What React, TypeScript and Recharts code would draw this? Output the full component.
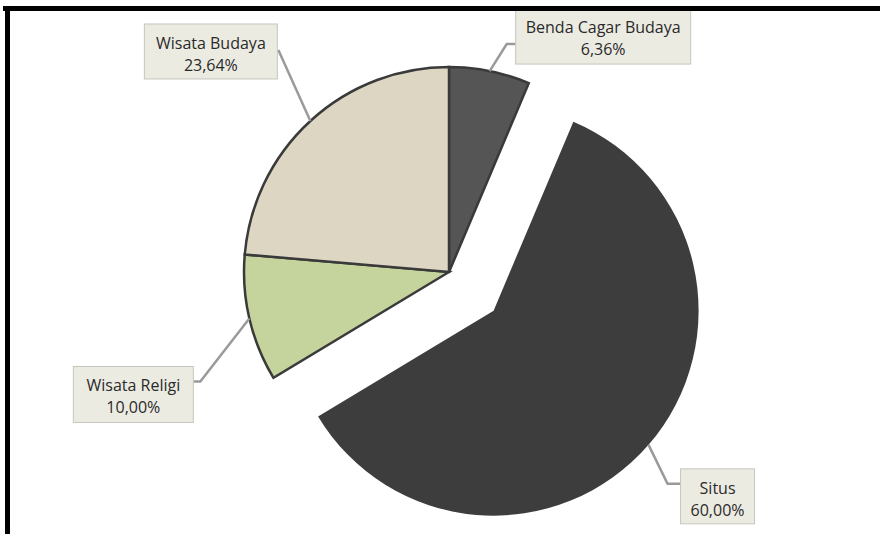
import { Cell, Pie, PieChart } from "recharts";

// Komposisi objek wisata budaya (persen)
const names = ["Benda Cagar Budaya", "Situs", "Wisata Religi", "Wisata Budaya"];
const shares = [6.36, 60.0, 10.0, 23.64];
const fills = ["#555555", "#3d3d3d", "#c5d39c", "#dcd6c3"];
const EXPLODED = "Situs";

const W = 880;
const H = 534;
const CX = 449;
const CY = 272;
const R = 205;
const EXPLODE_BY = 59;
const RAD = Math.PI / 180;
const FONT = "'Open Sans', 'DejaVu Sans', sans-serif";

const data = names.map((name, i) => ({ name, value: shares[i], fill: fills[i] }));

// Shift of the exploded slice, along its mid angle (clockwise from 12 o'clock).
const total = shares.reduce((a, b) => a + b, 0);
const explodedIdx = names.indexOf(EXPLODED);
const before = shares.slice(0, explodedIdx).reduce((a, b) => a + b, 0);
const midDeg = ((before + shares[explodedIdx] / 2) / total) * 360;
const shiftX = EXPLODE_BY * Math.sin(midDeg * RAD);
const shiftY = -EXPLODE_BY * Math.cos(midDeg * RAD);

// Label boxes relative to the point where the leader line touches the arc.
type LabelLayout = { bx: number; by: number; w: number; h: number; line: number[][] };
const LABELS: Record<string, LabelLayout> = {
  "Benda Cagar Budaya": { bx: 26, by: -63, w: 175, h: 56, line: [[17, -27], [26, -27]] },
  Situs: { bx: 32, by: 24, w: 74, h: 55, line: [[19, 39], [32, 39]] },
  "Wisata Religi": { bx: -176, by: 48, w: 120, h: 56, line: [[-49, 63], [-56, 63]] },
  "Wisata Budaya": { bx: -166, by: -97, w: 133, h: 55, line: [[-32, -71]] },
};

const pct = (v: number) => v.toFixed(2).replace(".", ",") + "%";

function makeLabel(showExploded: boolean) {
  return (props: any) => {
    const { cx, cy, midAngle, outerRadius, name, value } = props;
    const isExploded = name === EXPLODED;
    if (isExploded !== showExploded) return <g />;
    const ax = cx + outerRadius * Math.cos(-midAngle * RAD);
    const ay = cy + outerRadius * Math.sin(-midAngle * RAD);
    const l = LABELS[name];
    const pts = [[0, 0], ...l.line].map(([x, y]) => `${ax + x},${ay + y}`).join(" ");
    const tx = ax + l.bx + l.w / 2;
    return (
      <g>
        <polyline points={pts} fill="none" stroke="#9a9a9a" strokeWidth={2.5} />
        <rect
          x={ax + l.bx}
          y={ay + l.by}
          width={l.w}
          height={l.h}
          fill="#ecebe2"
          stroke="#c6c6be"
          strokeWidth={1}
        />
        <text
          x={tx}
          y={ay + l.by + 19}
          textAnchor="middle"
          dominantBaseline="central"
          fontFamily={FONT}
          fontSize={16}
          fill="#2a2a2a"
        >
          {name}
        </text>
        <text
          x={tx}
          y={ay + l.by + 41}
          textAnchor="middle"
          dominantBaseline="central"
          fontFamily={FONT}
          fontSize={16}
          fill="#2a2a2a"
        >
          {pct(value)}
        </text>
      </g>
    );
  };
}

export default function App() {
  return (
    <div style={{ position: "fixed", left: 0, top: 0, width: W, height: H, background: "#fff" }}>
      <PieChart width={W} height={H} margin={{ top: 0, right: 0, bottom: 0, left: 0 }}>
        <Pie
          data={data}
          dataKey="value"
          nameKey="name"
          cx={CX}
          cy={CY}
          outerRadius={R}
          startAngle={90}
          endAngle={-270}
          labelLine={false}
          label={makeLabel(false)}
          isAnimationActive={false}
        >
          {data.map((d) => (
            <Cell
              key={d.name}
              fill={d.name === EXPLODED ? "transparent" : d.fill}
              stroke={d.name === EXPLODED ? "none" : "#3a3a3a"}
              strokeWidth={2.5}
            />
          ))}
        </Pie>
        <Pie
          data={data}
          dataKey="value"
          nameKey="name"
          cx={CX + shiftX}
          cy={CY + shiftY}
          outerRadius={R}
          startAngle={90}
          endAngle={-270}
          labelLine={false}
          label={makeLabel(true)}
          isAnimationActive={false}
        >
          {data.map((d) => (
            <Cell
              key={d.name}
              fill={d.name === EXPLODED ? d.fill : "transparent"}
              stroke="none"
            />
          ))}
        </Pie>
      </PieChart>
      <div style={{ position: "absolute", left: 3, top: 6, width: W - 3, height: 5, background: "#000" }} />
      <div style={{ position: "absolute", left: 5, top: 6, width: 5, height: H - 6, background: "#000" }} />
    </div>
  );
}
